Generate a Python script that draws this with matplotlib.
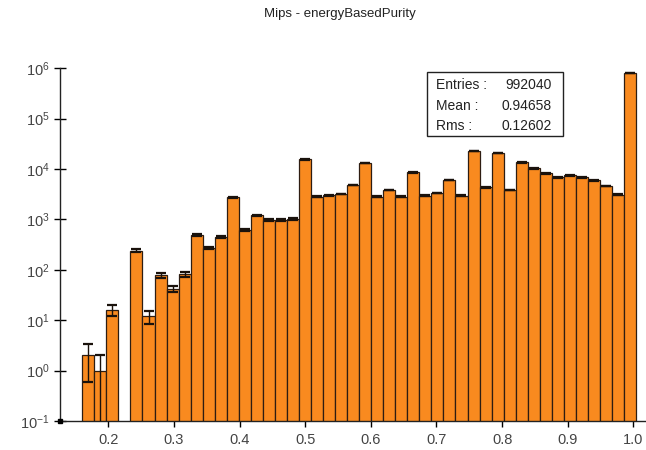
import matplotlib.pyplot as plt
import numpy as np

# histogram contents (46 bins, one empty)
counts = [2, 1, 16, 0, 238, 12, 79, 42, 82, 489,
          273, 440, 2737, 614, 1202, 970, 970, 1015, 15570, 2815,
          3000, 3185, 4805, 13150, 2815, 3820, 2815, 8590, 2950, 3335,
          6040, 2950, 22750, 4325, 21070, 3820, 13570, 10310, 8200, 6835,
          7485, 6835, 5960, 4590, 3085, 790000]
bin_lo, bin_hi = 0.1604, 1.0041

title = "Mips - energyBasedPurity"
stats_labels = ["Entries :", "Mean :", "Rms :"]
stats_values = ["992040", "0.94658", "0.12602"]

x_ticks = [0.2, 0.3, 0.4, 0.5, 0.6, 0.7, 0.8, 0.9, 1.0]
y_ticks = [1e-1, 1e0, 1e1, 1e2, 1e3, 1e4, 1e5, 1e6]

plt.rcParams['font.family'] = ['Liberation Sans', 'DejaVu Sans']
plt.rcParams['mathtext.fontset'] = 'custom'
plt.rcParams['mathtext.rm'] = 'Liberation Sans'
plt.rcParams['mathtext.it'] = 'Liberation Sans:italic'
plt.rcParams['mathtext.default'] = 'regular'

counts = np.array(counts, dtype=float)
edges = np.linspace(bin_lo, bin_hi, len(counts) + 1)
centers = 0.5 * (edges[:-1] + edges[1:])
width = edges[1] - edges[0]
filled = counts > 0

fig = plt.figure(figsize=(6.46, 4.50), dpi=100)
ax = fig.add_axes([60 / 646, 1 - 421 / 450, 586 / 646, (421 - 68.3) / 450])

ax.bar(centers[filled], counts[filled], width=width, color='#f98a1f',
       edgecolor='#2e1d12', linewidth=0.9, zorder=2)

err = np.sqrt(counts[filled])
ax.errorbar(centers[filled], counts[filled], yerr=err, fmt='none',
            ecolor='#1a120c', elinewidth=1.0, capsize=3.4, capthick=1.6, zorder=3)

ax.set_yscale('log')
ax.set_ylim(1e-1, 1e6)
ax.set_xlim(0.1264, 1.0193)

ax.set_xticks(x_ticks)
ax.set_xticklabels([f"{t:.1f}" for t in x_ticks])
ax.set_yticks(y_ticks)
ax.set_yticklabels([f"$10^{{{int(np.log10(t))}}}$" for t in y_ticks])
ax.yaxis.set_minor_locator(plt.NullLocator())

for side in ['top', 'right']:
    ax.spines[side].set_visible(False)
for side in ['left', 'bottom']:
    ax.spines[side].set_linewidth(1.0)
    ax.spines[side].set_color('#222222')

ax.tick_params(axis='x', direction='out', length=4, width=1.0,
               labelsize=10.5, labelcolor='#444444', pad=5)
ax.tick_params(axis='y', direction='inout', length=9, width=1.0,
               labelsize=10.5, labelcolor='#444444', pad=3)

ax.plot([0.1264], [1e-1], 's', color='black', ms=2.5, clip_on=False, zorder=5)

fig.text(340 / 646, 1 - 14 / 450, title, ha='center', va='center',
         fontsize=9.5, color='#222222')

# statistics box
box = plt.Rectangle((427 / 646, 1 - 136 / 450), 136 / 646, 64 / 450,
                    transform=fig.transFigure, fill=True, facecolor='white',
                    edgecolor='#222222', linewidth=1.0, zorder=10)
fig.add_artist(box)
for i, (lab, val) in enumerate(zip(stats_labels, stats_values)):
    ypos = 1 - (85 + 20.5 * i) / 450
    fig.text(436 / 646, ypos, lab, ha='left', va='center', fontsize=10,
             color='#222222', zorder=11)
    fig.text(552 / 646, ypos, val, ha='right', va='center', fontsize=10,
             color='#222222', zorder=11)

fig.savefig('out.png', dpi=100)
